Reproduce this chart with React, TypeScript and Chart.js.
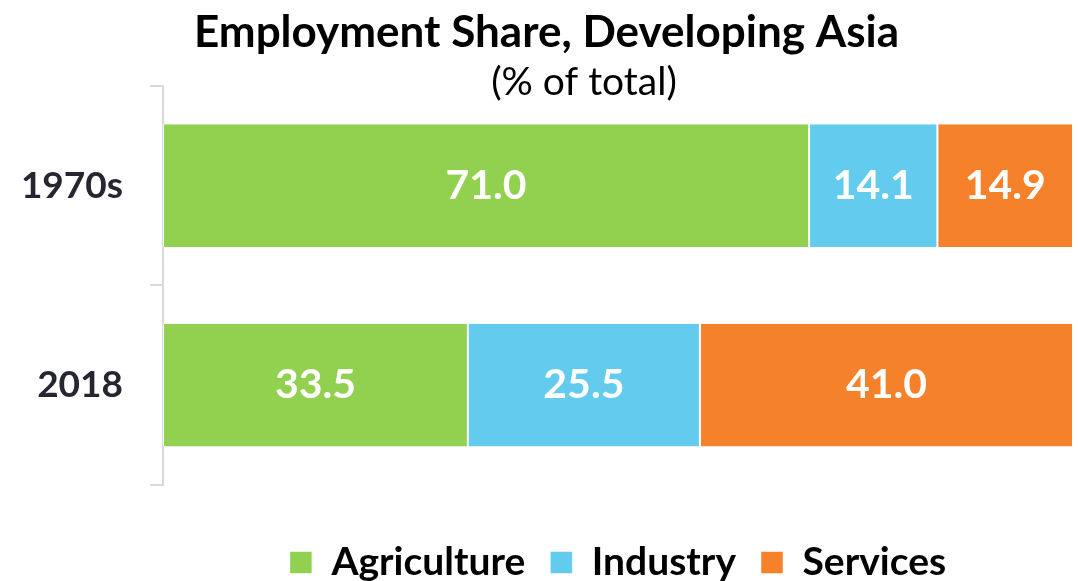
import React, { useEffect, useRef } from "react";
import { Chart, registerables } from "chart.js";
Chart.register(...registerables);

const categories = ["1970s", "2018"];
const agriculture = [71.0, 33.5];
const industry = [14.1, 25.5];
const services = [14.9, 41.0];
const seriesNames = ["Agriculture", "Industry", "Services"];
const seriesColors = ["#92D050", "#63CBED", "#F5822A"];
const titleText = "Employment Share, Developing Asia";
const subtitleText = "(% of total)";

const FONT = "Lato, 'Open Sans', sans-serif";

const valueLabels = {
  id: "valueLabels",
  afterDatasetsDraw(chart: any) {
    const ctx = chart.ctx;
    ctx.save();
    ctx.font = `bold 41px ${FONT}`;
    ctx.fillStyle = "#ffffff";
    ctx.textAlign = "center";
    ctx.textBaseline = "middle";
    chart.data.datasets.forEach((ds: any, i: number) => {
      const meta = chart.getDatasetMeta(i);
      meta.data.forEach((bar: any, j: number) => {
        const { x, base, y } = bar.getProps(["x", "base", "y"], true);
        ctx.fillText(Number(ds.data[j]).toFixed(1), (x + base) / 2, y);
      });
    });
    ctx.restore();
  },
};

const subtitleDraw = {
  id: "subtitleDraw",
  afterDraw(chart: any) {
    const ctx = chart.ctx;
    const tb = chart.titleBlock;
    ctx.save();
    ctx.font = `normal 39px ${FONT}`;
    ctx.fillStyle = "#000000";
    ctx.textAlign = "center";
    ctx.textBaseline = "middle";
    ctx.fillText(subtitleText, chart.width / 2 + 45, tb.bottom - 3);
    ctx.restore();
  },
};

export default function App() {
  const ref = useRef<HTMLCanvasElement>(null);
  useEffect(() => {
    if (!ref.current) return;
    const seriesData = [agriculture, industry, services];
    const chart = new Chart(ref.current, {
      type: "bar",
      data: {
        labels: categories,
        datasets: seriesNames.map((name, i) => ({
          label: name,
          data: seriesData[i],
          backgroundColor: seriesColors[i],
          borderColor: "#ffffff",
          borderWidth: { left: 1, right: 1, top: 0, bottom: 0 },
          borderSkipped: false,
          barPercentage: 0.615,
          categoryPercentage: 1,
        })),
      },
      options: {
        indexAxis: "y",
        responsive: false,
        animation: false,
        layout: { padding: { left: 20, right: 5, top: 0, bottom: -11 } },
        scales: {
          x: {
            stacked: true,
            min: 0,
            max: 100,
            display: true,
            grid: { display: false },
            border: { display: false },
            ticks: { display: false },
            afterFit: (s: any) => {
              s.height = 33;
            },
          },
          y: {
            stacked: true,
            afterFit: (s: any) => {
              s.width = 143;
            },
            grid: {
              drawOnChartArea: false,
              drawTicks: true,
              tickLength: 13,
              color: "#D9D9D9",
              lineWidth: 2,
              offset: true,
            },
            border: { color: "#D9D9D9", width: 2 },
            ticks: {
              font: { family: FONT, size: 37, weight: "bold" },
              color: "#262633",
              padding: 27,
            },
          },
        },
        plugins: {
          title: {
            display: true,
            text: titleText,
            color: "#000000",
            font: { family: FONT, size: 44, weight: "bold" },
            padding: { top: 6, bottom: 27 },
          },
          subtitle: { display: false },
          legend: {
            position: "bottom",
            fullSize: false,
            labels: {
              boxWidth: 22,
              boxHeight: 22,
              padding: 25,
              color: "#000000",
              font: { family: FONT, size: 39, weight: "bold" },
            },
          },
          tooltip: { enabled: false },
        },
      },
      plugins: [valueLabels, subtitleDraw],
    });
    return () => chart.destroy();
  }, []);
  return (
    <div style={{ position: "fixed", left: 0, top: 0, width: 1078, height: 581, background: "#fff" }}>
      <canvas ref={ref} width={1078} height={581} style={{ width: 1078, height: 581, display: "block" }} />
    </div>
  );
}
